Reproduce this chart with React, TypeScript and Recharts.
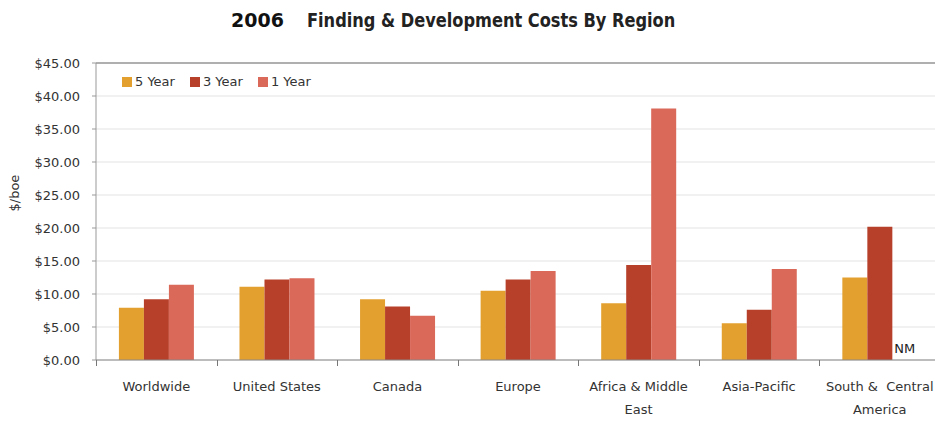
import { BarChart, Bar, XAxis, YAxis, CartesianGrid, ReferenceLine, LabelList } from 'recharts'

const regions = [
  'Worldwide',
  'United States',
  'Canada',
  'Europe',
  'Africa & Middle\nEast',
  'Asia-Pacific',
  'South &  Central\nAmerica',
]
const fiveYear = [7.9, 11.1, 9.2, 10.5, 8.6, 5.55, 12.5]
const threeYear = [9.2, 12.2, 8.1, 12.2, 14.4, 7.6, 20.2]
// null = not meaningful (shown as "NM")
const oneYear: (number | null)[] = [11.4, 12.4, 6.7, 13.5, 38.1, 13.8, null]
const oneYearNotes = ['', '', '', '', '', '', 'NM']
const yTicks = [0, 5, 10, 15, 20, 25, 30, 35, 40, 45]

const data = regions.map((r, i) => ({
  region: r,
  y5: fiveYear[i],
  y3: threeYear[i],
  y1: oneYear[i],
  note: oneYearNotes[i],
}))

const FONT = '"DejaVu Sans", Verdana, sans-serif'
const CHART_W = 945
const CHART_H = 422
const MARGIN = { top: 63, right: 5, bottom: 0, left: 0 }
const Y_AXIS_W = 96
const X_AXIS_H = 62
const HALF_BAND = (CHART_W - MARGIN.right - Y_AXIS_W) / regions.length / 2

const COLORS = { y5: '#e3a02f', y3: '#b7402b', y1: '#da695a' }

function RegionTick(props: any) {
  const { x, y, payload } = props
  const lines = String(payload.value).split('\n')
  const tx = Math.round(x - HALF_BAND) + 0.5
  return (
    <g>
      <path d={`M${tx},${y - 8}L${tx},${y - 2}`} stroke="#777" strokeWidth={1} fill="none" />
      <text x={x} y={y + 23} textAnchor="middle" fill="#333" fontSize={13} fontFamily={FONT}>
        {lines.map((l, i) => (
          <tspan key={i} x={x} dy={i === 0 ? 0 : 23} style={{ whiteSpace: 'pre' }}>
            {l}
          </tspan>
        ))}
      </text>
    </g>
  )
}

function LegendBox() {
  const items = [
    { label: '5 Year', color: COLORS.y5 },
    { label: '3 Year', color: COLORS.y3 },
    { label: '1 Year', color: COLORS.y1 },
  ]
  return (
    <div style={{ position: 'absolute', left: 122, top: 74, display: 'flex', fontFamily: FONT, fontSize: 13, color: '#333' }}>
      {items.map((it) => (
        <div key={it.label} style={{ display: 'flex', alignItems: 'center', marginRight: 15 }}>
          <span style={{ width: 10, height: 10, background: it.color, display: 'inline-block', marginRight: 3 }} />
          <span>{it.label}</span>
        </div>
      ))}
    </div>
  )
}

// "NM" note for the missing 1 Year bar, drawn in the slot right of the 3 Year bar
function NoteLabel(props: any) {
  const { value } = props
  if (!value) return null
  const vb = props.viewBox || {}
  const x = Number(props.x ?? vb.x)
  const y = Number(props.y ?? vb.y)
  const width = Number(props.width ?? vb.width ?? 0)
  const height = Number(props.height ?? vb.height ?? 0)
  if (!isFinite(x) || !isFinite(y)) return null
  return (
    <text x={x + width * 1.5} y={y + height - 7} textAnchor="middle" fill="#222" fontSize={13} fontFamily={FONT}>
      {value}
    </text>
  )
}

export default function App() {
  return (
    <div style={{ position: 'absolute', left: 0, top: 0, width: 935, height: 422, overflow: 'hidden', background: '#fff' }}>
      <div style={{ position: 'absolute', left: 231, top: 9, fontFamily: FONT, fontWeight: 'bold', fontSize: 19, color: '#111' }}>
        2006
      </div>
      <div
        style={{
          position: 'absolute',
          left: 307,
          top: 8,
          fontFamily: '"DejaVu Sans Condensed", sans-serif',
          fontWeight: 'bold',
          fontSize: 20,
          color: '#222',
          transform: 'scaleX(0.9)',
          transformOrigin: 'left top',
          whiteSpace: 'nowrap',
        }}
      >
        Finding &amp; Development Costs By Region
      </div>
      <BarChart width={CHART_W} height={CHART_H} data={data} margin={MARGIN} barCategoryGap="19%" barGap={0}>
        <CartesianGrid vertical={false} stroke="#e3e3e3" />
        <ReferenceLine y={45} stroke="#999" strokeWidth={1.5} />
        <YAxis
          width={Y_AXIS_W}
          domain={[0, 45]}
          ticks={yTicks}
          tickFormatter={(v: number) => `$${v.toFixed(2)}`}
          tick={{ fill: '#333', fontSize: 13, fontFamily: FONT }}
          tickSize={4}
          tickMargin={12}
          stroke="#999"
          label={{ value: '$/boe', angle: -90, position: 'insideLeft', offset: 14, fill: '#333', fontSize: 13, fontFamily: FONT }}
        />
        <XAxis
          dataKey="region"
          height={X_AXIS_H}
          interval={0}
          tickLine={false}
          tickSize={6}
          tickMargin={2}
          stroke="#888"
          tick={<RegionTick />}
        />
        <Bar dataKey="y5" name="5 Year" fill={COLORS.y5} isAnimationActive={false} />
        <Bar dataKey="y3" name="3 Year" fill={COLORS.y3} isAnimationActive={false}>
          <LabelList dataKey="note" content={NoteLabel} />
        </Bar>
        <Bar dataKey="y1" name="1 Year" fill={COLORS.y1} isAnimationActive={false} />
      </BarChart>
      <LegendBox />
    </div>
  )
}
